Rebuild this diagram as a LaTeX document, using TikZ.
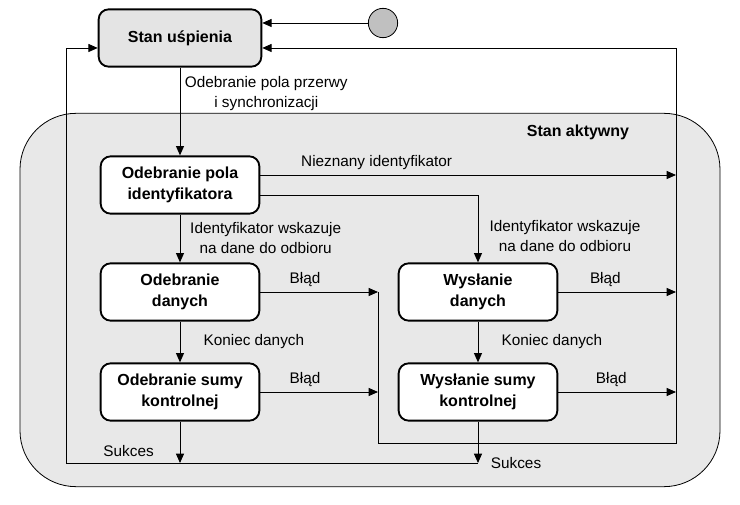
\documentclass[tikz,border=0pt]{standalone}
\usepackage{fontspec}
\setmainfont{Liberation Sans}
\usepackage{tikz}
\usetikzlibrary{positioning,arrows.meta,calc}
\definecolor{regiongray}{HTML}{E8E8E8}
\definecolor{sleepgray}{HTML}{E4E4E4}
\definecolor{dotgray}{HTML}{C0C0C0}
\tikzset{
  state/.style={draw,line width=1.4pt,rounded corners=7.5pt,fill=white,align=center,
    minimum width=119pt,minimum height=43pt,font=\fontsize{12}{15.5}\selectfont\bfseries},
  region/.style={draw,line width=0.6pt,rounded corners=42pt,fill=regiongray,
    minimum width=525pt,minimum height=280pt},
  arr/.style={-{Triangle[length=7pt,width=6pt]},line width=0.7pt},
  lbl/.style={align=center,font=\fontsize{11.5}{15}\selectfont}
}

\begin{document}
\begin{tikzpicture}[x=0.75pt,y=-0.75pt,font=\fontsize{11.5}{15}\selectfont]
\useasboundingbox (0,0) rectangle (740,505);
\node[region] (active) at (370,300) {};
\node[font=\fontsize{12}{15}\selectfont\bfseries] (activelbl) at (578,132) {Stan aktywny};

\node[state,fill=sleepgray,minimum width=122pt] (sleep) at (180,38) {Stan uśpienia};
\node[draw,circle,fill=dotgray,line width=0.6pt,minimum size=22pt] (init) at (383,23) {};
\node[state] (idrx) at (180,185) {Odebranie pola\\identyfikatora};
\node[state] (datarx) at (180,292) {Odebranie\\danych};
\node[state] (sumrx) at (180,392) {Odebranie sumy\\kontrolnej};
\node[state] (datatx) at (478,292) {Wysłanie\\danych};
\node[state] (sumtx) at (478,392) {Wysłanie sumy\\kontrolnej};

\coordinate (okcorner) at (66,463);
\coordinate (errcol) at (378,443);
\coordinate (errcorner) at (676,443);
\coordinate (unknown) at ([yshift=7.5pt]idrx.east);
\coordinate (known) at ([yshift=-8pt]idrx.east);

\draw[arr] (init) -- (init -| sleep.east);
\draw[arr] (sleep) -- node[lbl,right,pos=0.3]{Odebranie pola przerwy\\i synchronizacji} (idrx);

\draw[arr] (unknown) -- node[lbl,above,pos=0.28]{Nieznany identyfikator} (errcorner |- unknown);
\draw[arr] (known) -| node[lbl,right,pos=0.8,xshift=5pt]{Identyfikator wskazuje\\na dane do odbioru} (datatx);
\draw[arr] (idrx) -- node[lbl,right,xshift=4pt]{Identyfikator wskazuje\\na dane do odbioru} (datarx);

\draw[arr] (datarx) -- node[lbl,right,xshift=14pt]{Koniec danych} (sumrx);
\draw[arr] (datatx) -- node[lbl,right,xshift=14pt]{Koniec danych} (sumtx);

\draw[arr] (datarx) -- node[lbl,above,pos=0.38]{Błąd} (errcol |- datarx);
\draw[arr] (sumrx) -- node[lbl,above,pos=0.38]{Błąd} (errcol |- sumrx);
\draw[arr] (datatx) -- node[lbl,above,pos=0.4]{Błąd} (errcorner |- datatx);
\draw[arr] (sumtx) -- node[lbl,above,pos=0.45]{Błąd} (errcorner |- sumtx);

\draw[arr] (sumrx) -- node[lbl,left,pos=0.72,xshift=-16pt]{Sukces} (sumrx |- okcorner);
\draw[arr] (sumtx) -- node[lbl,right,pos=1,xshift=6pt]{Sukces} (sumtx |- okcorner);

\draw[arr] (sumtx |- okcorner) -- (okcorner) |- (sleep.west |- 0,48);
\draw[arr] (errcol |- datarx) -- (errcol) -- (errcorner) |- (sleep.east |- 0,48);
\end{tikzpicture}
\end{document}
